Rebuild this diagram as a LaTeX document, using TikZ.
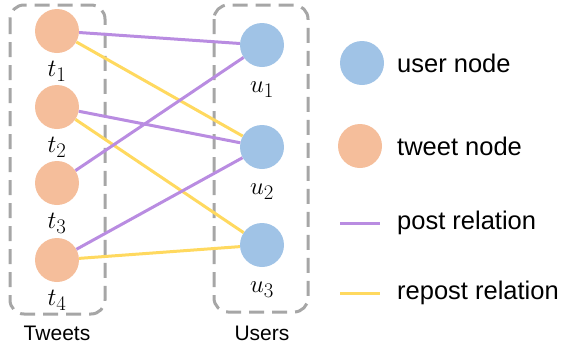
\documentclass[tikz,border=0pt]{standalone}
\usepackage{fontspec}
\setmainfont{Liberation Sans}
\usetikzlibrary{positioning}

\definecolor{tweetcol}{RGB}{245,190,155}
\definecolor{usercol}{RGB}{160,195,230}
\definecolor{postcol}{RGB}{185,140,225}
\definecolor{repostcol}{RGB}{255,217,95}
\definecolor{grupocol}{RGB}{166,166,166}

\tikzset{
  tweet/.style={circle, fill=tweetcol, minimum size=44pt, inner sep=0pt},
  user/.style={circle, fill=usercol, minimum size=44pt, inner sep=0pt},
  post/.style={draw=postcol, line width=3pt},
  repost/.style={draw=repostcol, line width=3pt},
  grupo/.style={draw=grupocol, line width=3pt, dash pattern=on 15pt off 8pt, rounded corners=14pt},
  etiq/.style={inner sep=0pt, font=\fontsize{30}{34}\selectfont},
  leyenda/.style={inner sep=0pt, anchor=west, font=\fontsize{25.5}{30}\selectfont},
  titulo/.style={inner sep=0pt, font=\fontsize{21}{25}\selectfont}
}

\begin{document}
\begin{tikzpicture}[x=1pt, y=-1pt]
  \useasboundingbox (0,0) rectangle (563,354);

  % grupos
  \draw[grupo] (10,5) rectangle (105,314); % Tweets
  \draw[grupo] (214,5) rectangle (308,312); % Users
  \node[titulo] (ttweets) at (57,333) {Tweets};
  \node[titulo] (tusers) at (262,333) {Users};

  % nodos tweet
  \node[tweet] (t1) at (57,31) {};
  \node[tweet] (t2) at (57,107) {};
  \node[tweet] (t3) at (57,183) {};
  \node[tweet] (t4) at (57,260) {};

  % nodos user
  \node[user] (u1) at (262,45) {};
  \node[user] (u2) at (262,147) {};
  \node[user] (u3) at (262,245) {};

  % etiquetas
  \foreach \n in {1,...,4}
    \node[etiq, below=23pt of t\n.south, anchor=base] (lt\n) {$t_\n$};
  \foreach \n in {1,...,3}
    \node[etiq, below=25pt of u\n.south, anchor=base] (lu\n) {$u_\n$};

  % relaciones
  \draw[post] (t1) -- (u1);
  \draw[repost] (t1) -- (u2);
  \draw[post] (t2) -- (u2);
  \draw[repost] (t2) -- (u3);
  \draw[post] (t3) -- (u1);
  \draw[post] (t4) -- (u2);
  \draw[repost] (t4) -- (u3);

  % leyenda
  \node[user] (luser) at (362,63) {};
  \node[leyenda] (txuser) at (397,63) {user node};
  \node[tweet] (ltweet) at (360,146) {};
  \node[leyenda] (txtweet) at (397,146) {tweet node};
  \coordinate (pa) at (340,223);
  \coordinate (pb) at (380,223);
  \draw[post] (pa) -- (pb);
  \node[leyenda] (txpost) at (397,223) {post relation};
  \coordinate (ra) at (340,293);
  \coordinate (rb) at (380,293);
  \draw[repost] (ra) -- (rb);
  \node[leyenda] (txrepost) at (397,293) {repost relation};
\end{tikzpicture}
\end{document}
